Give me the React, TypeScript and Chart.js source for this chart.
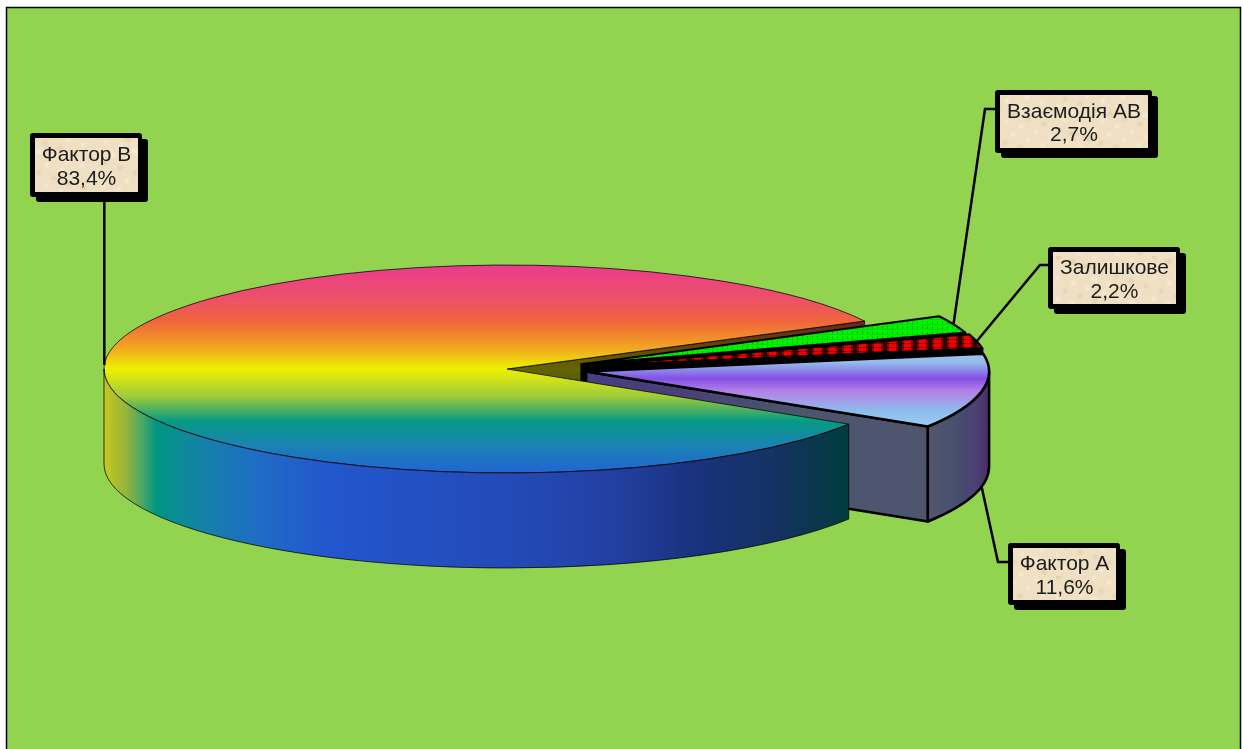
import React, { useEffect, useRef } from "react";
import { Chart, registerables } from "chart.js";

Chart.register(...registerables);

// Variance shares, in the order the slices run clockwise from the start angle.
const categories = ["Фактор А", "Фактор В", "Взаємодія АВ", "Залишкове"];
const shares = [11.6, 83.4, 2.7, 2.2];
const explosion = [0.2, 0, 0.2, 0.2];
const baseColors = ["#8f6fe6", "#2457c4", "#00f000", "#e00000"];

const WIDTH = 1243;
const HEIGHT = 749;
const START_ANGLE_DEG = 80.2;
const SCALE_X = 2;
const SCALE_Y = 0.516;
const EXPLODE_Y = 0.6;
const DEPTH = 95;
const GREEN_BG = "#92d350";

// Callout box frames: left, top, right and bottom of the parchment area.
const calloutBoxes = [
  { l: 1013, t: 548, r: 1116, b: 600, side: "left", elbow: [998, 562], jointY: 562 },
  { l: 35, t: 138, r: 138, b: 192, side: "bottom" },
  { l: 1000, t: 95, r: 1148, b: 148, side: "left", elbow: [985, 109], jointY: 109 },
  { l: 1053, t: 252, r: 1176, b: 304, side: "left", elbow: [1040, 265], jointY: 265 },
];

const rainbowStops: [number, string][] = [
  [0, "#ea3c8c"],
  [0.17, "#ee5166"],
  [0.27, "#f0643c"],
  [0.4, "#f2a820"],
  [0.5, "#eef000"],
  [0.63, "#a0cc38"],
  [0.75, "#069a84"],
  [0.87, "#1a82b4"],
  [1, "#2264d4"],
];

const wallStops: [number, string][] = [
  [0, "#c8c81e"],
  [0.03, "#94b43c"],
  [0.05, "#50a864"],
  [0.07, "#009682"],
  [0.13, "#1482a6"],
  [0.2, "#1e6ec3"],
  [0.3, "#2356cd"],
  [0.53, "#234bb9"],
  [0.67, "#2341a5"],
  [0.8, "#19327d"],
  [0.91, "#14325f"],
  [1, "#003c3c"],
];

const liliacStops: [number, string][] = [
  [0, "#9cc4ec"],
  [0.12, "#94bcec"],
  [0.34, "#8450e6"],
  [0.52, "#b482e6"],
  [0.8, "#8cbeec"],
  [1, "#a0cdf0"],
];

const faceStops: [number, string][] = [
  [0, "#4b3c82"],
  [0.25, "#483f78"],
  [0.6, "#4b556e"],
  [1, "#50556e"],
];

const rimStops: [number, string][] = [
  [0, "#55556e"],
  [0.45, "#46506e"],
  [0.78, "#4b4173"],
  [1, "#4b2d69"],
];

function linear(ctx: CanvasRenderingContext2D, x0: number, y0: number, x1: number, y1: number, stops: [number, string][]) {
  const g = ctx.createLinearGradient(x0, y0, x1, y1);
  stops.forEach(([p, c]) => g.addColorStop(p, c));
  return g;
}

function makeTile(w: number, h: number, paint: (c: CanvasRenderingContext2D) => void) {
  const tile = document.createElement("canvas");
  tile.width = w;
  tile.height = h;
  paint(tile.getContext("2d")!);
  return tile;
}

const dottedGreen = () =>
  makeTile(5, 5, (c) => {
    c.fillStyle = "#00f400";
    c.fillRect(0, 0, 5, 5);
    c.fillStyle = "#00c000";
    c.fillRect(2, 1, 1, 3);
    c.fillStyle = "#00dc00";
    c.fillRect(0, 4, 5, 1);
  });

const blobbyRed = () =>
  makeTile(15, 4, (c) => {
    c.fillStyle = "#2a0000";
    c.fillRect(0, 0, 15, 4);
    c.fillStyle = "#9a0000";
    c.fillRect(2, 0, 11, 3);
    c.fillStyle = "#f00000";
    c.fillRect(4, 0, 7, 3);
    c.fillStyle = "#a80000";
    c.fillRect(4, 3, 7, 1);
  });

// Mottled paper for the callouts, built from a fixed arrangement of soft spots.
const parchment = () =>
  makeTile(96, 64, (c) => {
    c.fillStyle = "#efdfc3";
    c.fillRect(0, 0, 96, 64);
    for (let i = 0; i < 46; i++) {
      const x = (i * 37) % 96;
      const y = (i * 23) % 64;
      const r = 4 + ((i * 7) % 7);
      const tone = i % 3 === 0 ? "226,204,166" : "248,238,216";
      const g = c.createRadialGradient(x, y, 0, x, y, r);
      g.addColorStop(0, `rgba(${tone},0.75)`);
      g.addColorStop(1, `rgba(${tone},0)`);
      c.fillStyle = g;
      c.fillRect(x - r, y - r, r * 2, r * 2);
    }
  });

function roundBox(ctx: CanvasRenderingContext2D, x0: number, y0: number, x1: number, y1: number, r: number) {
  ctx.beginPath();
  ctx.roundRect(x0, y0, x1 - x0, y1 - y0, r);
  ctx.fill();
}

const tiltedPie = {
  id: "tiltedPie",
  beforeDraw(chart: Chart) {
    const { ctx } = chart;
    ctx.save();
    ctx.fillStyle = "#ffffff";
    ctx.fillRect(0, 0, WIDTH, HEIGHT);
    ctx.fillStyle = GREEN_BG;
    ctx.fillRect(6, 7, 1235, HEIGHT);
    ctx.strokeStyle = "#000000";
    ctx.lineWidth = 1.5;
    ctx.strokeRect(6.5, 7.5, 1234, HEIGHT + 20);
    ctx.restore();
  },
  beforeDatasetsDraw(chart: Chart) {
    const { ctx } = chart;
    const arcs = chart.getDatasetMeta(0).data as any[];
    const slices = arcs.map((arc, index) => {
      const { x, y, startAngle, endAngle, outerRadius } = arc.getProps(["x", "y", "startAngle", "endAngle", "outerRadius"], true);
      const rx = outerRadius * SCALE_X;
      const ry = outerRadius * SCALE_Y;
      const mid = (startAngle + endAngle) / 2;
      return {
        index,
        s: startAngle,
        e: endAngle,
        mid,
        rx,
        ry,
        ax: x + Math.cos(mid) * rx * explosion[index],
        ay: y + Math.sin(mid) * ry * explosion[index] * EXPLODE_Y,
      };
    });
    type Slice = (typeof slices)[number];

    const rimPoint = (sl: Slice, a: number, drop = 0) => [sl.ax + Math.cos(a) * sl.rx, sl.ay + Math.sin(a) * sl.ry + drop];

    const topPath = (sl: Slice) => {
      ctx.beginPath();
      ctx.moveTo(sl.ax, sl.ay);
      ctx.ellipse(sl.ax, sl.ay, sl.rx, sl.ry, 0, sl.s, sl.e);
      ctx.closePath();
    };

    const facePath = (sl: Slice, angle: number) => {
      const [px, py] = rimPoint(sl, angle);
      ctx.beginPath();
      ctx.moveTo(sl.ax, sl.ay);
      ctx.lineTo(px, py);
      ctx.lineTo(px, py + DEPTH);
      ctx.lineTo(sl.ax, sl.ay + DEPTH);
      ctx.closePath();
    };

    const rimPath = (sl: Slice) => {
      const from = Math.max(sl.s, 0);
      const to = Math.min(sl.e, Math.PI);
      if (to <= from) return false;
      ctx.beginPath();
      ctx.ellipse(sl.ax, sl.ay, sl.rx, sl.ry, 0, from, to);
      ctx.ellipse(sl.ax, sl.ay + DEPTH, sl.rx, sl.ry, 0, to, from, true);
      ctx.closePath();
      return true;
    };

    const topY = (sl: Slice) => sl.ay - sl.ry;
    const whole = slices[1];
    const rainbow = linear(ctx, 0, topY(whole), 0, topY(whole) + 2 * whole.ry, rainbowStops);

    // Cut face of the large slice, in the shaded rainbow, behind everything else.
    ctx.save();
    facePath(whole, whole.e);
    ctx.fillStyle = rainbow;
    ctx.fill();
    ctx.fillStyle = "rgba(0,0,0,0.58)";
    ctx.fill();
    ctx.strokeStyle = "rgba(0,0,0,0.7)";
    ctx.lineWidth = 1;
    ctx.stroke();
    ctx.restore();

    // Pulled-out slices, back to front.
    const patterns = [null, null, ctx.createPattern(dottedGreen(), "repeat"), ctx.createPattern(blobbyRed(), "repeat")];
    const small = slices.filter((sl) => explosion[sl.index] > 0).sort((a, b) => a.ay - b.ay);
    small.forEach((sl) => {
      const isLarge = sl.index === 0;
      ctx.save();
      ctx.strokeStyle = "#000000";
      ctx.lineWidth = isLarge ? 2.5 : 2;
      ctx.lineJoin = "round";
      const [ex] = rimPoint(sl, sl.e);
      facePath(sl, sl.e);
      ctx.fillStyle = isLarge ? linear(ctx, sl.ax, 0, ex, 0, faceStops) : "#000000";
      ctx.fill();
      ctx.stroke();
      if (rimPath(sl)) {
        ctx.fillStyle = linear(ctx, ex, 0, sl.ax + sl.rx, 0, rimStops);
        ctx.fill();
        ctx.stroke();
      }
      topPath(sl);
      if (isLarge) {
        const [, sy] = rimPoint(sl, sl.s);
        const [, ey] = rimPoint(sl, sl.e);
        ctx.fillStyle = linear(ctx, 0, sy, 0, ey, liliacStops);
      } else {
        ctx.fillStyle = patterns[sl.index] as CanvasPattern;
      }
      ctx.fill();
      ctx.stroke();
      ctx.restore();
    });

    // The large slice closes the picture, its rim in front of the cut faces.
    ctx.save();
    ctx.strokeStyle = "rgba(0,0,0,0.75)";
    ctx.lineWidth = 1;
    topPath(whole);
    ctx.fillStyle = rainbow;
    ctx.fill();
    ctx.stroke();
    rimPath(whole);
    const [wallRight] = rimPoint(whole, whole.s);
    ctx.fillStyle = linear(ctx, whole.ax - whole.rx, 0, wallRight, 0, wallStops);
    ctx.fill();
    ctx.stroke();
    ctx.restore();

    // Callouts: the leader starts on the slice's rim at its mid angle.
    const paper = ctx.createPattern(parchment(), "repeat")!;
    slices.forEach((sl) => {
      const box = calloutBoxes[sl.index];
      const front = Math.sin(sl.mid) > 0 && sl.index === 0;
      const [px, py] = rimPoint(sl, sl.mid, front ? DEPTH : 0);
      ctx.save();
      ctx.strokeStyle = "#000000";
      ctx.lineWidth = 2.5;
      ctx.beginPath();
      ctx.moveTo(px, py);
      if (box.side === "bottom") {
        ctx.lineTo(px, box.b);
      } else {
        ctx.lineTo(box.elbow![0], box.elbow![1]);
        ctx.lineTo(box.l, box.jointY!);
      }
      ctx.stroke();
      ctx.fillStyle = "#000000";
      roundBox(ctx, box.l + 1, box.t + 1, box.r + 10, box.b + 10, 3);
      roundBox(ctx, box.l - 5, box.t - 5, box.r + 4, box.b + 5, 3);
      ctx.fillStyle = paper;
      ctx.fillRect(box.l, box.t, box.r - box.l, box.b - box.t);
      ctx.fillStyle = "#1c1c1c";
      ctx.font = '21px "Liberation Sans"';
      ctx.textAlign = "center";
      ctx.textBaseline = "middle";
      const cx = (box.l + box.r) / 2;
      const cy = (box.t + box.b) / 2;
      ctx.fillText(categories[sl.index], cx, cy - 9.5);
      ctx.fillText(`${String(shares[sl.index]).replace(".", ",")}%`, cx, cy + 14);
      ctx.restore();
    });
    return false;
  },
};

export default function App() {
  const ref = useRef<HTMLCanvasElement>(null);

  useEffect(() => {
    document.body.style.margin = "0";
    document.body.style.overflow = "hidden";
    const chart = new Chart(ref.current!, {
      type: "pie",
      data: {
        labels: categories,
        datasets: [{ data: shares, backgroundColor: baseColors, borderWidth: 0 }],
      },
      options: {
        animation: false,
        responsive: false,
        rotation: START_ANGLE_DEG,
        layout: { padding: { left: 305.5, right: 534.5, top: 167.5, bottom: 178.5 } },
        plugins: { legend: { display: false }, tooltip: { enabled: false } },
      },
      plugins: [tiltedPie],
    } as any);
    return () => chart.destroy();
  }, []);

  return <canvas ref={ref} width={WIDTH} height={HEIGHT} style={{ display: "block" }} />;
}
